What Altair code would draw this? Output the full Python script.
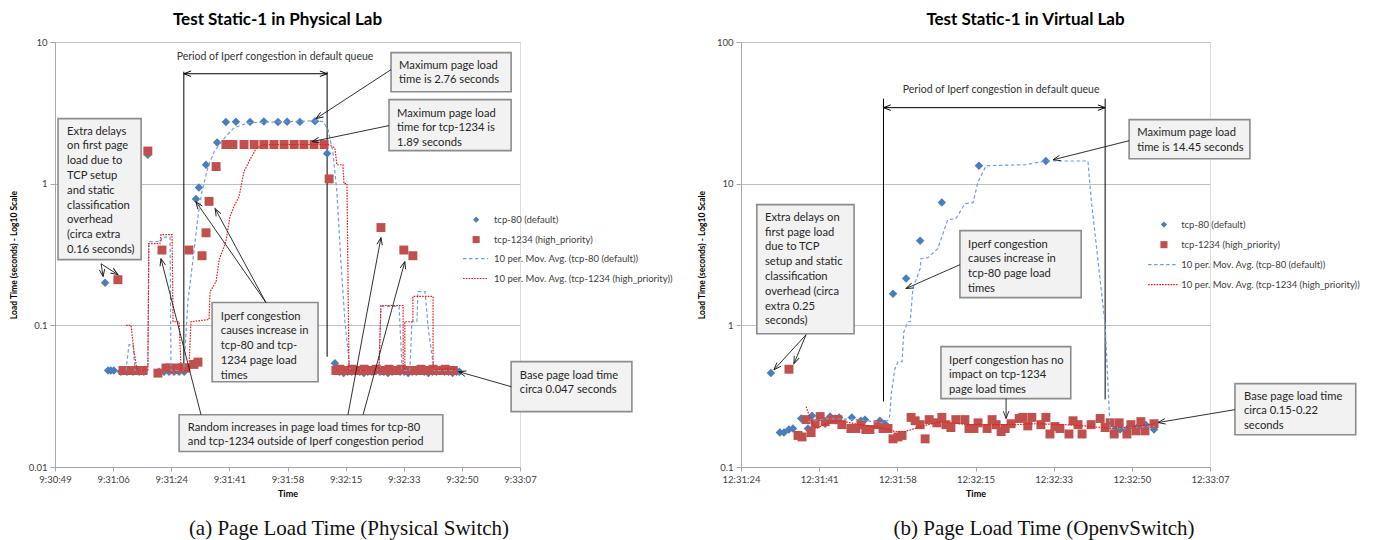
import math
import altair as alt
import pandas as pd

FONT = "Lato"
TICK_STEP = 17.28  # major unit of the time axis, in seconds

# ---------------- tick labels ----------------
left_tick_labels = ["9:30:49", "9:31:06", "9:31:24", "9:31:41", "9:31:58",
                    "9:32:15", "9:32:33", "9:32:50", "9:33:07"]
right_tick_labels = ["12:31:24", "12:31:41", "12:31:58", "12:32:15",
                     "12:32:33", "12:32:50", "12:33:07"]
left_y_ticks = [0.01, 0.1, 1, 10]
right_y_ticks = [0.1, 1, 10, 100]

series_names = ["tcp-80 (default)", "tcp-1234 (high_priority)",
                "10 per. Mov. Avg. (tcp-80 (default))",
                "10 per. Mov. Avg. (tcp-1234 (high_priority))"]

# ---------------- left panel: seconds after 9:30:49, load time (s) ----------------
left_tcp80_t = [14.9, 15.8, 16.6, 17.5, 19.6, 21.4, 23.2, 25.0, 26.4, 27.6,
                30.9, 32.4, 33.9, 35.4, 36.9, 38.4,
                41.9, 42.8, 44.9, 48.2, 50.8, 53.8, 58.0, 62.1, 66.3, 69.0, 72.8, 77.3, 80.9,
                83.2,
                84.6, 85.8, 87.0, 88.2, 89.4, 90.6, 91.8, 93.0, 94.2, 95.4,
                96.6, 97.8, 99.0, 100.2, 101.4, 102.6, 103.8, 105.0, 106.2, 107.4,
                108.6, 109.8, 111.0, 112.2, 113.4, 114.6, 115.8, 117.0, 118.2, 119.4,
                120.2]
left_tcp80_v = [0.20, 0.048, 0.048, 0.048, 0.047, 0.047, 0.047, 0.047, 0.047, 1.60,
                0.047, 0.047, 0.047, 0.047, 0.047, 0.047,
                0.78, 0.94, 1.36, 1.95, 2.72, 2.74, 2.73, 2.75, 2.72, 2.74, 2.73, 2.76, 1.63,
                0.054,
                0.047, 0.046, 0.047, 0.047, 0.048, 0.047, 0.046, 0.047, 0.047, 0.048,
                0.047, 0.047, 0.046, 0.047, 0.048, 0.047, 0.047, 0.046, 0.047, 0.047,
                0.048, 0.047, 0.046, 0.047, 0.047, 0.048, 0.047, 0.047, 0.046, 0.047,
                0.047]

left_tcp1234_t = [18.7, 20.2, 21.4, 22.6, 23.8, 25.0, 26.2, 27.6,
                  30.6, 31.8, 33.0, 34.2, 35.4, 36.6, 37.8, 38.9, 39.8,
                  41.3, 42.5, 43.7, 44.9, 45.8, 47.9,
                  50.8, 52.9, 56.2, 59.2, 62.1, 65.1, 68.1, 71.1, 74.0, 77.0, 80.0,
                  81.5,
                  83.5, 84.7, 85.9, 87.1, 88.3, 89.5, 90.7, 91.9, 93.1, 94.3, 95.5,
                  96.9, 98.1, 99.3, 100.5, 101.7, 102.9, 103.7, 105.2, 106.4,
                  107.6, 108.8, 110.0, 111.2, 112.4, 113.6, 114.8, 116.0, 117.2, 118.4]
left_tcp1234_v = [0.21, 0.048, 0.048, 0.048, 0.048, 0.048, 0.048, 1.70,
                  0.046, 0.34, 0.050, 0.050, 0.049, 0.050, 0.050, 0.050, 0.34,
                  0.053, 0.055, 0.31, 0.45, 0.75, 1.32,
                  1.89, 1.89, 1.89, 1.89, 1.89, 1.89, 1.89, 1.89, 1.89, 1.89, 1.89,
                  1.08,
                  0.048, 0.049, 0.048, 0.048, 0.049, 0.048, 0.048, 0.049, 0.048, 0.048, 0.049,
                  0.49, 0.048, 0.049, 0.048, 0.048, 0.049, 0.34, 0.048, 0.31,
                  0.048, 0.049, 0.048, 0.048, 0.049, 0.048, 0.048, 0.049, 0.048, 0.048]

left_ma80_t = [21.1, 22.0, 23.2, 23.8, 27.6, 27.9, 31.5, 31.8, 34.2, 34.5,
               38.3, 39.5, 41.3, 42.5, 43.7, 45.5, 47.3, 50.2, 53.2, 57.4,
               77.6, 79.7, 81.2, 82.6, 83.8, 85.0, 86.2, 87.7, 96.3, 96.9,
               102.3, 103.2, 105.5, 106.1, 107.6, 107.9, 110.0, 110.9, 112.7, 119.2]
left_ma80_v = [0.048, 0.073, 0.073, 0.048, 0.048, 0.39, 0.39, 0.42, 0.42, 0.048,
               0.048, 0.147, 0.33, 0.585, 0.88, 1.32, 1.68, 2.08, 2.48, 2.69,
               2.78, 2.74, 2.4, 1.68, 0.88, 0.28, 0.106, 0.048, 0.048, 0.136,
               0.136, 0.048, 0.048, 0.106, 0.106, 0.173, 0.173, 0.098, 0.048, 0.048]

left_ma1234_t = [21.1, 22.6, 23.5, 24.4, 27.6, 27.9, 31.2, 31.5, 34.8, 35.1,
                 36.9, 37.5, 39.8, 40.4, 45.8, 46.1, 47.9, 48.8, 50.8, 52.0,
                 53.2, 54.7, 56.2, 58.0, 59.8, 62.1, 81.2, 83.2, 83.8, 85.6,
                 85.9, 86.8, 87.4, 96.3, 96.9, 103.5, 103.5, 104.0, 104.0, 106.4,
                 106.4, 112.4, 112.4, 119.2]
left_ma1234_v = [0.1, 0.1, 0.065, 0.048, 0.048, 0.377, 0.377, 0.437, 0.437, 0.106,
                 0.106, 0.048, 0.048, 0.106, 0.11, 0.173, 0.204, 0.29, 0.39, 0.585,
                 0.69, 0.81, 1.22, 1.48, 1.77, 1.89, 1.89, 1.79, 1.36, 1.36,
                 1.0, 1.0, 0.048, 0.048, 0.138, 0.138, 0.049, 0.049, 0.106, 0.106,
                 0.16, 0.16, 0.049, 0.049]

# ---------------- right panel: seconds after 12:31:24, load time (s) ----------------
right_tcp80_t = [6.6, 8.6, 9.5, 10.6, 11.5, 13.3, 14.8, 15.7, 18.6, 19.7, 20.8, 21.7,
                 24.5, 26.5, 27.4, 30.7, 31.8,
                 33.6, 36.5, 39.6, 44.4, 52.6, 67.4,
                 82.7, 83.8, 85.5, 87.8, 89.5, 91.3]
right_tcp80_v = [0.46, 0.175, 0.175, 0.184, 0.187, 0.22, 0.187, 0.23, 0.202, 0.227, 0.22, 0.224,
                 0.224, 0.212, 0.216, 0.212, 0.202,
                 1.67, 2.14, 3.96, 7.35, 13.4, 14.45,
                 0.184, 0.184, 0.187, 0.193, 0.198, 0.184]

right_tcp1234_t = [10.6, 12.6, 13.5, 14.4, 15.5, 16.4, 17.5, 18.6, 20.3, 21.4,
                   22.3, 24.3, 25.4, 26.5, 27.6, 28.5, 30.3, 31.4, 32.5, 33.6,
                   34.7, 35.6, 37.6, 38.5, 39.6, 40.7, 41.6, 43.3, 44.4, 45.3,
                   46.4, 47.5, 49.5, 50.4, 51.5, 52.4, 54.4, 55.5, 56.4, 57.5,
                   58.4, 59.7, 61.5, 62.3, 63.4, 64.3, 66.3, 67.4, 68.3, 69.4,
                   70.5, 72.5, 73.4, 74.5, 75.4, 77.4, 79.4, 80.5, 81.6, 82.5,
                   83.6, 85.3, 86.2, 87.3, 88.4, 89.3, 91.3]
right_tcp1234_v = [0.49, 0.167, 0.163, 0.216, 0.175, 0.202, 0.227, 0.209, 0.216, 0.216,
                   0.199, 0.187, 0.187, 0.199, 0.184, 0.184, 0.199, 0.187, 0.187, 0.158,
                   0.163, 0.167, 0.224, 0.212, 0.199, 0.158, 0.216, 0.205, 0.224, 0.199,
                   0.19, 0.216, 0.216, 0.187, 0.187, 0.205, 0.187, 0.216, 0.199, 0.178,
                   0.187, 0.202, 0.22, 0.224, 0.195, 0.224, 0.199, 0.224, 0.171, 0.193,
                   0.187, 0.171, 0.212, 0.199, 0.171, 0.199, 0.22, 0.19, 0.205, 0.171,
                   0.205, 0.171, 0.199, 0.18, 0.209, 0.18, 0.202]

right_ma80_t = [14.8, 19.2, 25.9, 31.4, 32.7, 32.9, 33.2, 34.0, 34.7, 35.6,
                36.0, 36.9, 37.4, 38.0, 39.6, 39.8, 41.3, 43.5, 45.7, 47.5,
                49.5, 51.3, 52.4, 54.2, 62.8, 67.4, 76.7, 77.4, 80.5, 81.6,
                85.5, 91.5]
right_ma80_v = [0.209, 0.22, 0.216, 0.205, 0.216, 0.234, 0.324, 0.49, 0.555, 0.555,
                0.9, 1.06, 1.06, 1.82, 2.51, 2.96, 3.0, 3.48, 5.57, 5.66,
                7.22, 7.35, 10.3, 13.4, 13.6, 14.45, 14.45, 7.83, 1.01, 0.184,
                0.19, 0.193]

right_ma1234_t = [14.4, 15.3, 16.6, 19.9, 22.1, 25.2, 28.7, 31.8, 34.0, 36.2, 38.5,
                  41.3, 44.2, 50.2, 54.6, 60.6, 65.0, 71.6, 76.0, 81.8, 87.1, 91.5]
right_ma1234_v = [0.267, 0.22, 0.187, 0.209, 0.212, 0.202, 0.193, 0.187, 0.178, 0.178, 0.187,
                  0.199, 0.209, 0.199, 0.199, 0.199, 0.202, 0.199, 0.195, 0.187, 0.193, 0.202]

# ---------------- annotations (data coordinates) ----------------
# boxes: (t_left, t_right, v_top, v_bottom, text_t, text_v, text)
left_boxes = [
    (99.9, 135.6, 8.41, 4.46, 102.3, 7.5, "Maximum page load\ntime is 2.76 seconds"),
    (99.3, 135.6, 3.92, 1.71, 101.7, 3.44, "Maximum page load\ntime for tcp-1234 is\n1.89 seconds"),
    (0.9, 25.6, 2.88, 0.291, 3.6, 2.57,
     "Extra delays\non first page\nload due to\nTCP setup\nand static\nclassification\noverhead\n(circa extra\n0.16 seconds)"),
    (46.7, 78.2, 0.145, 0.040, 49.3, 0.127,
     "Iperf congestion\ncauses increase in\ntcp-80 and tcp-\n1234 page load\ntimes"),
    (36.9, 115.3, 0.0234, 0.01285, 39.5, 0.0209,
     "Random increases in page load times for tcp-80\nand tcp-1234 outside of Iperf congestion period"),
    (135.6, 171.5, 0.0554, 0.0246, 138.2, 0.0487, "Base page load time\ncirca 0.047 seconds"),
]
right_boxes = [
    (85.8, 112.5, 28.3, 15.0, 87.6, 25.2, "Maximum page load\ntime is 14.45 seconds"),
    (3.5, 25.0, 7.11, 0.873, 5.3, 6.34,
     "Extra delays on\nfirst page load\ndue to TCP\nsetup and static\nclassification\noverhead (circa\nextra 0.25\nseconds)"),
    (48.4, 75.2, 4.66, 1.57, 50.2, 4.09, "Iperf congestion\ncauses increase in\ntcp-80 page load\ntimes"),
    (44.2, 72.9, 0.708, 0.304, 46.0, 0.621, "Iperf congestion has no\nimpact on tcp-1234\npage load times"),
    (109.2, 135.9, 0.388, 0.169, 111.2, 0.346, "Base page load time\ncirca 0.15-0.22\nseconds"),
]
# arrows: (t_from, v_from, t_tip, v_tip)
left_arrows = [
    (99.9, 6.38, 77.6, 2.88), (99.3, 2.57, 76.4, 1.98),
    (13.7, 0.272, 14.3, 0.221), (13.7, 0.272, 18.7, 0.228),
    (62.7, 0.145, 41.9, 0.746), (62.7, 0.145, 47.6, 0.666),
    (43.4, 0.0234, 31.5, 0.296), (87.1, 0.0234, 96.9, 0.416), (91.6, 0.0234, 104.0, 0.282),
    (135.6, 0.0369, 120.0, 0.0471),
]
right_arrows = [
    (85.8, 20.1, 69.0, 14.75),
    (14.4, 0.86, 7.3, 0.486), (14.4, 0.86, 11.7, 0.537),
    (48.4, 2.68, 36.5, 1.82),
    (58.6, 0.304, 58.6, 0.22),
    (109.2, 0.254, 92.2, 0.206),
]
# congestion period: (t_start, t_end, v_arrow, v_top, v_bottom_start, v_bottom_end, label_t, label_v)
left_period = (38.3, 80.9, 5.97, 6.17, 0.0456, 0.060, 65.4, 7.87)
right_period = (31.5, 80.5, 34.4, 39.8, 0.29, 0.30, 57.5, 46.0)
period_label = "Period of Iperf congestion in default queue"

# legend: (t_marker, t_line_start, t_line_end, t_label, [row values])
left_legend = (125.2, 121.3, 128.7, 130.5, [0.557, 0.403, 0.296, 0.214])
right_legend = (93.5, 90.0, 96.6, 97.3, [5.14, 3.71, 2.68, 1.94])

left_caption = (87.4, 0.00367, "(a) Page Load Time (Physical Switch)")
right_caption = (67.0, 0.0367, "(b) Page Load Time (OpenvSwitch)")

BLUE = "#4a7ebb"
RED = "#c0504d"
BLUE_MA = "#6f9fd8"
RED_MA = "#f01818"
ARROW_PATH = "M -0.55 1.45 L 0 0 L 0.55 1.45"


def build_panel(p):
    W, H = p["width"], p["height"]
    ticks = p["ticks"]
    xmax = TICK_STEP * (len(ticks) - 1)
    ymin, ymax = p["ydomain"]
    dec = math.log10(ymax) - math.log10(ymin)

    def ang(x1, y1, x2, y2):
        dx = (x2 - x1) * W / xmax
        dy = -(math.log10(y2) - math.log10(y1)) * H / dec
        return (math.degrees(math.atan2(dx, -dy)) + 360.0) % 360.0

    arr = "[" + ",".join("'" + s + "'" for s in ticks) + "]"
    xs = alt.Scale(domain=[0, xmax], nice=False, zero=False)
    ys = alt.Scale(type="log", domain=[ymin, ymax], nice=False)
    xa = alt.Axis(values=[round(TICK_STEP * i, 4) for i in range(len(ticks))],
                  labelExpr=f"{arr}[round(datum.value / {TICK_STEP})]",
                  labelFlush=False, labelOverlap=False,
                  title="Time", grid=False, domainColor="#a6a6a6", tickColor="#a6a6a6",
                  tickSize=4, labelPadding=3, labelFontSize=9.5, labelColor="#404040",
                  titleFontSize=9, titleFontWeight="bold", titleColor="#000000", titlePadding=6,
                  labelFont=FONT, titleFont=FONT)
    ya = alt.Axis(values=p["yticks"], format="~g",
                  title="Load Time (seconds) - Log10 Scale", grid=True, gridColor="#bfbfbf",
                  domainColor="#a6a6a6", tickColor="#a6a6a6", tickSize=5, labelPadding=3,
                  labelFontSize=9.5, labelColor="#404040", titleFontSize=8.5,
                  titleFontWeight="bold", titleColor="#000000", titlePadding=10,
                  labelFont=FONT, titleFont=FONT)
    X = alt.X("x:Q", scale=xs, axis=xa)
    Y = alt.Y("y:Q", scale=ys, axis=ya)

    layers = []
    # congestion period marker
    ts, te, va, vt, vb1, vb2, lt, lv = p["period"]
    vert = pd.DataFrame({"x": [ts, te], "y": [vt, vt], "y2": [vb1, vb2]})
    layers.append(alt.Chart(vert).mark_rule(color="#000000", strokeWidth=1).encode(x=X, y=Y, y2="y2:Q"))
    harr = pd.DataFrame({"x": [ts], "x2": [te], "y": [va]})
    layers.append(alt.Chart(harr).mark_rule(color="#000000", strokeWidth=1).encode(x=X, x2="x2:Q", y=Y))
    hheads = pd.DataFrame({"x": [ts, te], "y": [va, va], "a": [270.0, 90.0]})
    layers.append(alt.Chart(hheads).mark_point(shape=ARROW_PATH, filled=False, size=100, color="#000000",
                                               strokeWidth=1, opacity=1)
                  .encode(x=X, y=Y, angle=alt.Angle("a:Q", scale=None)))
    plab = pd.DataFrame({"x": [lt], "y": [lv], "label": [period_label]})
    layers.append(alt.Chart(plab).mark_text(font=FONT, fontSize=10.5, color="#333333", align="center",
                                            baseline="middle").encode(x=X, y=Y, text="label:N"))

    # data points
    d80 = pd.DataFrame({"x": p["t80"], "y": p["v80"]})
    d1234 = pd.DataFrame({"x": p["t1234"], "y": p["v1234"]})
    layers.append(alt.Chart(d80).mark_point(shape="diamond", filled=True, size=72, color=BLUE, opacity=1)
                  .encode(x=X, y=Y))
    layers.append(alt.Chart(d1234).mark_point(shape="square", filled=True, size=80, color=RED, opacity=1)
                  .encode(x=X, y=Y))
    # moving averages
    m80 = pd.DataFrame({"x": p["ma80_t"], "y": p["ma80_v"], "i": range(len(p["ma80_t"]))})
    m1234 = pd.DataFrame({"x": p["ma1234_t"], "y": p["ma1234_v"], "i": range(len(p["ma1234_t"]))})
    layers.append(alt.Chart(m80).mark_line(color=BLUE_MA, strokeWidth=1.2, strokeDash=[3.5, 2.5])
                  .encode(x=X, y=Y, order="i:Q"))
    layers.append(alt.Chart(m1234).mark_line(color=RED_MA, strokeWidth=1.2, strokeDash=[1.6, 1.2])
                  .encode(x=X, y=Y, order="i:Q"))

    # annotation boxes
    boxes = p["boxes"]
    bdf = pd.DataFrame({"x": [b[0] for b in boxes], "x2": [b[1] for b in boxes],
                        "y": [b[2] for b in boxes], "y2": [b[3] for b in boxes]})
    layers.append(alt.Chart(bdf).mark_rect(fill="#f2f2f2", stroke="#8c8c8c", strokeWidth=1.6)
                  .encode(x=X, x2="x2:Q", y=Y, y2="y2:Q"))
    tdf = pd.DataFrame({"x": [b[4] for b in boxes], "y": [b[5] for b in boxes],
                        "label": [b[6] for b in boxes]})
    layers.append(alt.Chart(tdf).mark_text(font=FONT, fontSize=11.2, color="#262626", align="left",
                                           baseline="top", lineBreak="\n", lineHeight=14.8)
                  .encode(x=X, y=Y, text="label:N"))
    # arrows
    arrows = p["arrows"]
    adf = pd.DataFrame({"x": [a[0] for a in arrows], "y": [a[1] for a in arrows],
                        "x2": [a[2] for a in arrows], "y2": [a[3] for a in arrows]})
    layers.append(alt.Chart(adf).mark_rule(color="#1a1a1a", strokeWidth=0.9)
                  .encode(x=X, y=Y, x2="x2:Q", y2="y2:Q"))
    hdf = pd.DataFrame({"x": [a[2] for a in arrows], "y": [a[3] for a in arrows],
                        "a": [ang(*a) for a in arrows]})
    layers.append(alt.Chart(hdf).mark_point(shape=ARROW_PATH, filled=False, size=100, color="#1a1a1a",
                                            strokeWidth=0.9, opacity=1)
                  .encode(x=X, y=Y, angle=alt.Angle("a:Q", scale=None)))

    # legend
    tm, tl1, tl2, tlab, rows = p["legend"]
    layers.append(alt.Chart(pd.DataFrame({"x": [tm], "y": [rows[0]]}))
                  .mark_point(shape="diamond", filled=True, size=38, color=BLUE, opacity=1).encode(x=X, y=Y))
    layers.append(alt.Chart(pd.DataFrame({"x": [tm], "y": [rows[1]]}))
                  .mark_point(shape="square", filled=True, size=50, color=RED, opacity=1).encode(x=X, y=Y))
    layers.append(alt.Chart(pd.DataFrame({"x": [tl1], "x2": [tl2], "y": [rows[2]]}))
                  .mark_rule(color=BLUE_MA, strokeWidth=1.2, strokeDash=[3.5, 2.5])
                  .encode(x=X, x2="x2:Q", y=Y))
    layers.append(alt.Chart(pd.DataFrame({"x": [tl1], "x2": [tl2], "y": [rows[3]]}))
                  .mark_rule(color=RED_MA, strokeWidth=1.2, strokeDash=[1.6, 1.2])
                  .encode(x=X, x2="x2:Q", y=Y))
    ldf = pd.DataFrame({"x": [tlab] * 4, "y": rows, "label": series_names})
    layers.append(alt.Chart(ldf).mark_text(font=FONT, fontSize=9.5, color="#404040", align="left",
                                           baseline="middle").encode(x=X, y=Y, text="label:N"))

    # caption
    ct, cv, ctext = p["caption"]
    layers.append(alt.Chart(pd.DataFrame({"x": [ct], "y": [cv], "label": [ctext]}))
                  .mark_text(font="Liberation Serif", fontSize=21, color="#111111", align="center",
                             baseline="middle").encode(x=X, y=Y, text="label:N"))

    return alt.layer(*layers).properties(
        width=W, height=H,
        title=alt.TitleParams(p["title"], font=FONT, fontSize=17, fontWeight="bold", color="#000000",
                              anchor="middle", dx=p["title_dx"], offset=8),
    )


left_panel = build_panel(dict(
    width=465, height=425, ticks=left_tick_labels, ydomain=(0.01, 10), yticks=left_y_ticks,
    t80=left_tcp80_t, v80=left_tcp80_v, t1234=left_tcp1234_t, v1234=left_tcp1234_v,
    ma80_t=left_ma80_t, ma80_v=left_ma80_v, ma1234_t=left_ma1234_t, ma1234_v=left_ma1234_v,
    boxes=left_boxes, arrows=left_arrows, period=left_period, legend=left_legend,
    caption=left_caption, title="Test Static-1 in Physical Lab", title_dx=-10))

right_panel = build_panel(dict(
    width=469, height=425, ticks=right_tick_labels, ydomain=(0.1, 100), yticks=right_y_ticks,
    t80=right_tcp80_t, v80=right_tcp80_v, t1234=right_tcp1234_t, v1234=right_tcp1234_v,
    ma80_t=right_ma80_t, ma80_v=right_ma80_v, ma1234_t=right_ma1234_t, ma1234_v=right_ma1234_v,
    boxes=right_boxes, arrows=right_arrows, period=right_period, legend=right_legend,
    caption=right_caption, title="Test Static-1 in Virtual Lab", title_dx=50))

chart = alt.hconcat(left_panel, right_panel, spacing=221, bounds="flush").properties(
    padding={"left": 0, "top": 2, "right": 0, "bottom": 0}
).configure_view(stroke=None).configure(background="#ffffff")

chart.save("out.html", embed_options={"renderer": "svg", "actions": False})
